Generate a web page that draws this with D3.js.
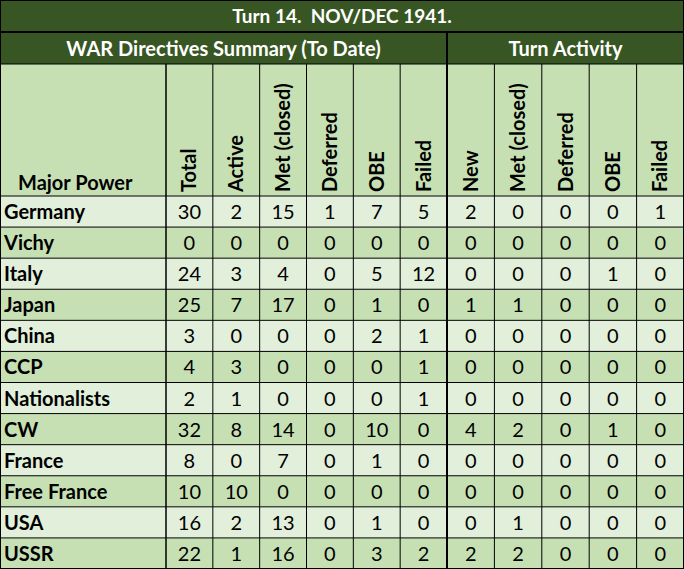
<!DOCTYPE html>
<html><head><meta charset="utf-8">
<script src="https://cdn.jsdelivr.net/npm/d3@7.9.0/dist/d3.min.js"></script>
<style>body{margin:0;background:#fff}svg{display:block;font-family:Lato,"Open Sans",sans-serif}text{white-space:pre}</style>
</head><body><svg id="t" width="684" height="569"></svg>
<script>
const title = 'Turn 14.  NOV/DEC 1941.';
const groups = ['WAR Directives Summary (To Date)', 'Turn Activity'];
const columns = ['Total','Active','Met (closed)','Deferred','OBE','Failed','New','Met (closed)','Deferred','OBE','Failed'];
const powers = ['Germany','Vichy','Italy','Japan','China','CCP','Nationalists','CW','France','Free France','USA','USSR'];
const values = [
  [30,2,15,1,7,5,2,0,0,0,1],
  [0,0,0,0,0,0,0,0,0,0,0],
  [24,3,4,0,5,12,0,0,0,1,0],
  [25,7,17,0,1,0,1,1,0,0,0],
  [3,0,0,0,2,1,0,0,0,0,0],
  [4,3,0,0,0,1,0,0,0,0,0],
  [2,1,0,0,0,1,0,0,0,0,0],
  [32,8,14,0,10,0,4,2,0,1,0],
  [8,0,7,0,1,0,0,0,0,0,0],
  [10,10,0,0,0,0,0,0,0,0,0],
  [16,2,13,0,1,0,0,1,0,0,0],
  [22,1,16,0,3,2,2,2,0,0,0]
];

const dark = '#375623', light = '#c6e0b4', pale = '#e2efda';
const svg = d3.select('#t');
const W = 684, firstW = 166;
const left = d3.scaleBand().domain(d3.range(6)).range([firstW, 447]);
const right = d3.scaleBand().domain(d3.range(6, 11)).range([447, W]);
const colX = i => i < 6 ? left(i) : right(i);
const colW = i => i < 6 ? left.bandwidth() : right.bandwidth();
const y = d3.scaleBand().domain(d3.range(powers.length)).range([196, 569]);

// title row
svg.append('rect').attr('width', W).attr('height', 32).attr('fill', dark);
svg.append('text').attr('x', W / 2).attr('y', 23).attr('text-anchor', 'middle')
  .attr('fill', '#fff').attr('font-weight', 'bold').attr('font-size', 19).text(title);
// group row
svg.append('rect').attr('y', 32).attr('width', W).attr('height', 32).attr('fill', dark);
[[0, 447], [447, W]].forEach(([a, b], i) => {
  svg.append('text').attr('x', (a + b) / 2).attr('y', 56).attr('text-anchor', 'middle')
    .attr('fill', '#fff').attr('font-weight', 'bold').attr('font-size', 20).text(groups[i]);
});
// column header row
svg.append('rect').attr('y', 64).attr('width', W).attr('height', 132).attr('fill', light);
svg.append('text').attr('x', 18).attr('y', 190).attr('font-weight', 'bold').attr('font-size', 20).text('Major Power');
columns.forEach((c, i) => {
  const cx = colX(i) + colW(i) / 2 + 7;
  svg.append('text').attr('transform', `translate(${cx},192) rotate(-90)`)
    .attr('font-weight', 'bold').attr('font-size', 20).text(c);
});
// data rows
powers.forEach((p, r) => {
  const g = svg.append('g');
  g.append('rect').attr('y', y(r)).attr('width', W).attr('height', y.bandwidth())
    .attr('fill', r % 2 === 0 ? pale : light);
  g.append('text').attr('x', 4).attr('y', y(r) + 23).attr('font-weight', 'bold').attr('font-size', 20).text(p);
  values[r].forEach((v, i) => {
    g.append('text').attr('x', colX(i) + colW(i) / 2).attr('y', y(r) + 23)
      .attr('text-anchor', 'middle').attr('font-size', 20).text(v);
  });
});
// grid lines
const line = (x1, y1, x2, y2, w) => svg.append('line').attr('x1', x1).attr('y1', y1).attr('x2', x2).attr('y2', y2)
  .attr('stroke', '#000').attr('stroke-width', w || 1);
line(0, 32, W, 32, 2);
line(0, 64, W, 64, 1);
d3.range(powers.length).forEach(r => line(0, y(r), W, y(r), 1));
line(firstW, 64, firstW, 569, 1.5);
d3.range(1, 11).forEach(i => line(colX(i), 64, colX(i), 569, i === 6 ? 2 : 1));
line(447, 32, 447, 64, 2);
svg.append('rect').attr('x', 0.5).attr('y', 0.5).attr('width', W - 1).attr('height', 568)
  .attr('fill', 'none').attr('stroke', '#000');
</script></body></html>
